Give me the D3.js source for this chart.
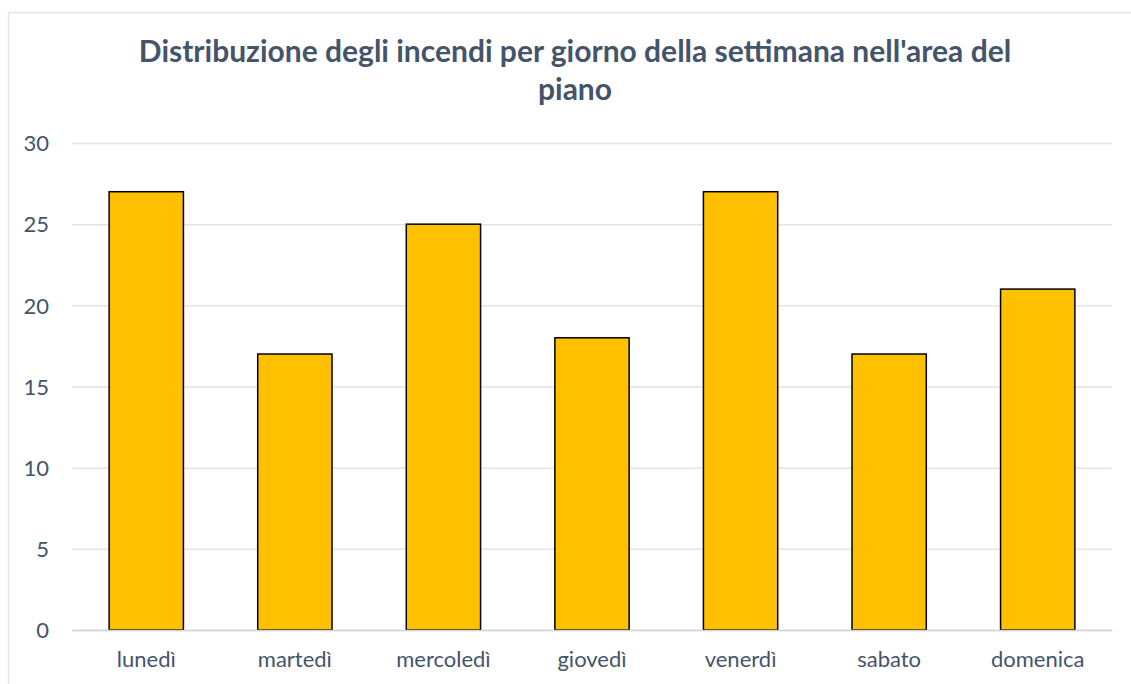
<!DOCTYPE html>
<html>
<head>
<meta charset="utf-8">
<script src="https://cdn.jsdelivr.net/npm/d3@7"></script>
<style>
  html, body { margin: 0; padding: 0; background: #fff; }
  svg { display: block; }
</style>
</head>
<body>
<svg id="chart" width="1131" height="684"></svg>
<script>
// Fires per weekday
const days = ["lunedì", "martedì", "mercoledì", "giovedì", "venerdì", "sabato", "domenica"];
const fires = [27, 17, 25, 18, 27, 17, 21];
const yTicks = [0, 5, 10, 15, 20, 25, 30];
const titleLines = ["Distribuzione degli incendi per giorno della settimana nell'area del", "piano"];

const svg = d3.select("#chart");
const font = "Lato, 'Open Sans', sans-serif";
const textColor = "#44546A";

// chart frame
svg.append("rect")
  .attr("x", 8.5).attr("y", 12.5)
  .attr("width", 1140).attr("height", 700)
  .attr("fill", "#fff")
  .attr("stroke", "#E1E4E8").attr("stroke-width", 1.5);

const plot = { left: 72, right: 1112, top: 143, bottom: 630 };

const x = d3.scaleBand()
  .domain(days)
  .range([plot.left, plot.right])
  .paddingInner(0.5)
  .paddingOuter(0.25);

const y = d3.scaleLinear()
  .domain([0, 30])
  .range([plot.bottom, plot.top]);

// title
svg.append("text")
  .attr("x", 575).attr("y", 62)
  .attr("text-anchor", "middle")
  .attr("font-family", font)
  .attr("font-weight", "bold")
  .attr("font-size", 30)
  .attr("fill", textColor)
  .selectAll("tspan")
  .data(titleLines)
  .join("tspan")
  .attr("x", 575)
  .attr("dy", (d, i) => i === 0 ? 0 : 38)
  .text(d => d);

// gridlines + y labels
const yAxis = d3.axisLeft(y).tickValues(yTicks).tickSize(-(plot.right - plot.left)).tickPadding(23);
const gy = svg.append("g")
  .attr("transform", `translate(${plot.left},0)`)
  .call(yAxis);
gy.select(".domain").remove();
gy.selectAll(".tick line").attr("stroke", "#E1E4E8").attr("stroke-width", 1.5);
gy.selectAll(".tick text")
  .attr("font-family", font)
  .attr("font-size", 22)
  .attr("fill", textColor)
  .attr("dy", "0.35em");

// bars
svg.append("g")
  .selectAll("rect")
  .data(fires)
  .join("rect")
  .attr("x", (d, i) => x(days[i]))
  .attr("y", d => y(d))
  .attr("width", x.bandwidth())
  .attr("height", d => y(0) - y(d))
  .attr("fill", "#FFC000")
  .attr("stroke", "#000")
  .attr("stroke-width", 1.5);

// x axis
const xAxis = d3.axisBottom(x).tickSize(0).tickPadding(21);
const gx = svg.append("g")
  .attr("transform", `translate(0,${plot.bottom})`)
  .call(xAxis);
gx.select(".domain").attr("stroke", "#D0D4DA").attr("stroke-width", 1.5);
gx.selectAll(".tick text")
  .attr("font-family", font)
  .attr("font-size", 22)
  .attr("fill", textColor);
</script>
</body>
</html>
